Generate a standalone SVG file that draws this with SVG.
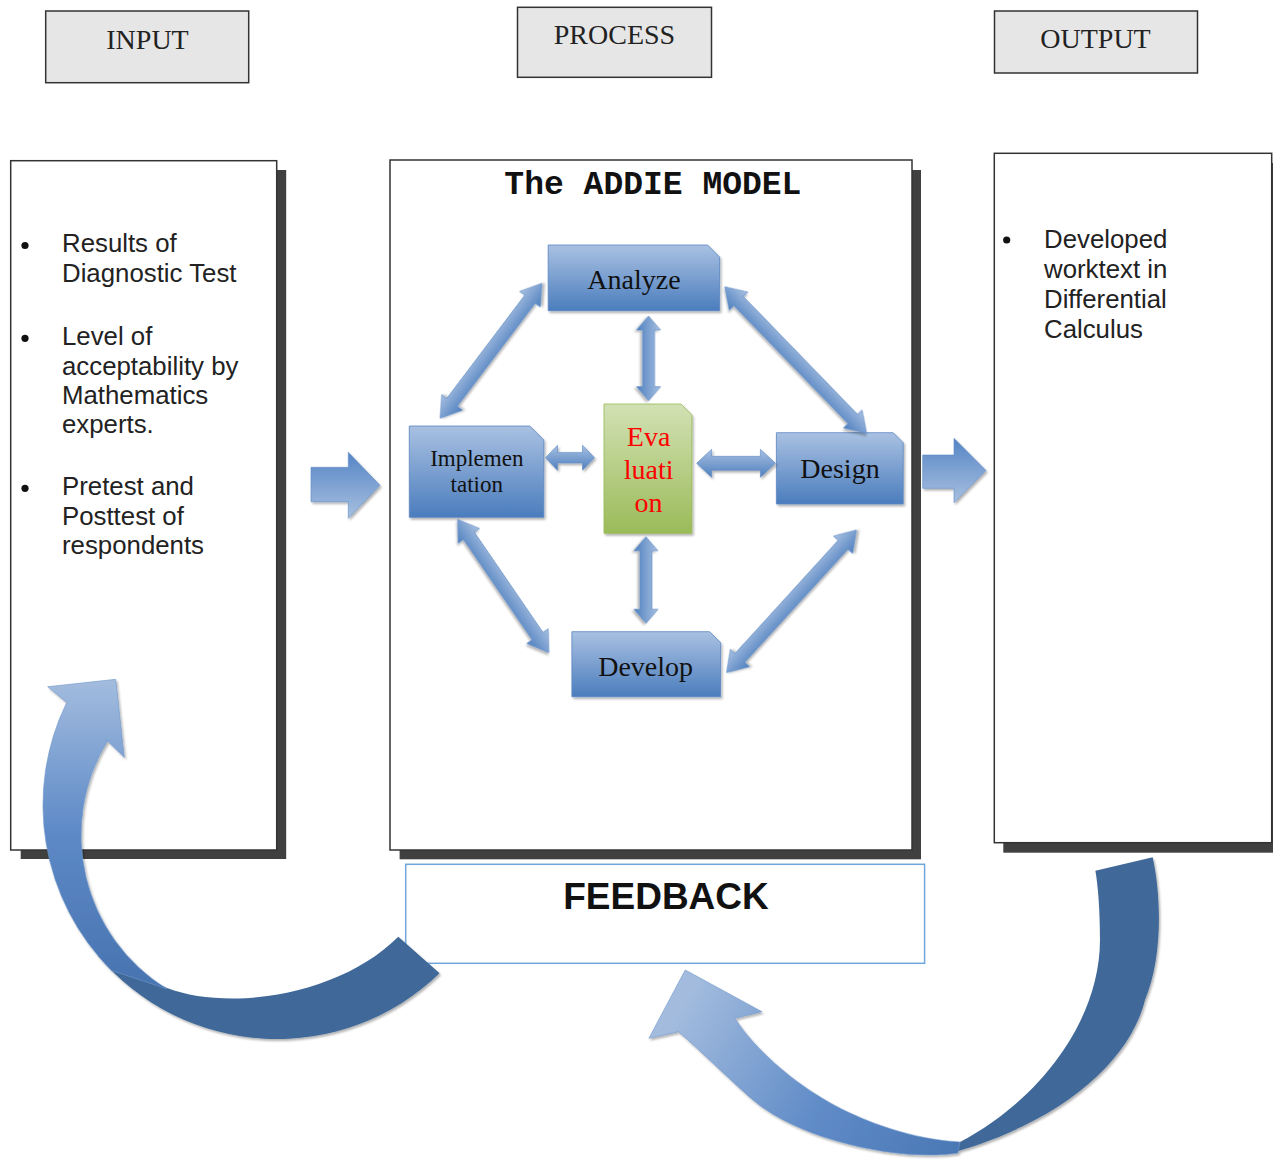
<svg xmlns="http://www.w3.org/2000/svg" width="1273" height="1161" viewBox="0 0 1273 1161">
  <style>
    .hdr { font-family: "Liberation Serif", "Times New Roman", serif; font-size: 28px; fill: #222; text-anchor: middle; }
    .hbox { fill: #e6e6e6; stroke: #333; stroke-width: 1.5; }
    .panel { fill: #fff; stroke: #333; stroke-width: 1.5; }
    .shadow { fill: #404040; }
    .body { font-family: "Liberation Sans", Arial, sans-serif; font-size: 25.8px; fill: #222; }
    .title { font-family: "Liberation Mono", "Courier New", monospace; font-weight: bold; font-size: 33px; fill: #111; text-anchor: middle; }
    .fb { font-family: "Liberation Sans", Arial, sans-serif; font-weight: bold; font-size: 37px; fill: #111; text-anchor: middle; }
    .nd { font-family: "Liberation Serif", "Times New Roman", serif; font-size: 28px; fill: #111; text-anchor: middle; }
    .step { fill: url(#stepBlue); stroke: #5a87c2; stroke-width: 0.8; filter: url(#soft); }
    .dbl { fill: url(#arrowBlue); stroke: #5b88c4; stroke-width: 0.6; filter: url(#soft); }
    .blk { fill: url(#blockBlue); stroke: #5f8cc8; stroke-width: 0.6; filter: url(#soft); }
  </style>
  <defs>
    <linearGradient id="stepBlue" x1="0" y1="0" x2="0" y2="1">
      <stop offset="0" stop-color="#a9c1e2"/>
      <stop offset="1" stop-color="#4b7dbd"/>
    </linearGradient>
    <linearGradient id="stepGreen" x1="0" y1="0" x2="0" y2="1">
      <stop offset="0" stop-color="#d2e1b4"/>
      <stop offset="1" stop-color="#9bbb59"/>
    </linearGradient>
    <linearGradient id="arrowBlue" x1="0" y1="0" x2="0" y2="1">
      <stop offset="0" stop-color="#a8c0e1"/>
      <stop offset="1" stop-color="#4f80bf"/>
    </linearGradient>
    <linearGradient id="blockBlue" x1="0" y1="0" x2="0" y2="1">
      <stop offset="0" stop-color="#5585c5"/>
      <stop offset="1" stop-color="#a8c0e0"/>
    </linearGradient>
    <linearGradient id="loopLeft" gradientUnits="userSpaceOnUse" x1="0" y1="680" x2="0" y2="985">
      <stop offset="0" stop-color="#a3bcde"/>
      <stop offset="0.5" stop-color="#5d8ac7"/>
      <stop offset="1" stop-color="#4874b0"/>
    </linearGradient>
    <linearGradient id="loopRight" gradientUnits="userSpaceOnUse" x1="690" y1="990" x2="960" y2="1150">
      <stop offset="0" stop-color="#a3bcde"/>
      <stop offset="0.55" stop-color="#5f8bc7"/>
      <stop offset="1" stop-color="#4a78b5"/>
    </linearGradient>
    <filter id="soft" x="-20%" y="-20%" width="140%" height="140%">
      <feDropShadow dx="1.5" dy="2" stdDeviation="1.2" flood-color="#000" flood-opacity="0.3"/>
    </filter>
  </defs>

  <!-- column headings -->
  <g id="head-input">
    <rect class="hbox" x="45.7" y="11" width="203" height="71.7"/>
    <text class="hdr" x="147.5" y="49">INPUT</text>
  </g>
  <g id="head-process">
    <rect class="hbox" x="517.5" y="7.3" width="194" height="70"/>
    <text class="hdr" x="614.5" y="44">PROCESS</text>
  </g>
  <g id="head-output">
    <rect class="hbox" x="994.5" y="11" width="203" height="62"/>
    <text class="hdr" x="1095.5" y="47.5">OUTPUT</text>
  </g>

  <!-- input panel -->
  <g id="input-panel">
    <rect class="shadow" x="20.7" y="170" width="265.5" height="689"/>
    <rect class="panel" x="10.7" y="160.7" width="266" height="689.3"/>
    <circle cx="25" cy="245.5" r="3.6" fill="#111"/>
    <text class="body" x="62" y="252.3">Results of</text>
    <text class="body" x="62" y="281.8">Diagnostic Test</text>
    <circle cx="25" cy="338.3" r="3.6" fill="#111"/>
    <text class="body" x="62" y="345">Level of</text>
    <text class="body" x="62" y="374.5">acceptability by</text>
    <text class="body" x="62" y="403.5">Mathematics</text>
    <text class="body" x="62" y="433">experts.</text>
    <circle cx="25" cy="488.3" r="3.6" fill="#111"/>
    <text class="body" x="62" y="495">Pretest and</text>
    <text class="body" x="62" y="524.5">Posttest of</text>
    <text class="body" x="62" y="554">respondents</text>
  </g>

  <!-- process panel -->
  <g id="process-panel">
    <rect class="shadow" x="399.6" y="170" width="521.4" height="689.3"/>
    <rect class="panel" x="390" y="160" width="522" height="690"/>
    <text class="title" x="652.9" y="194">The ADDIE MODEL</text>
  </g>

  <!-- output panel -->
  <g id="output-panel">
    <rect class="shadow" x="1003.3" y="163" width="280" height="689.7"/>
    <rect class="panel" x="994.3" y="153.3" width="277.4" height="689.4"/>
    <circle cx="1006.7" cy="240" r="3.6" fill="#111"/>
    <text class="body" x="1044" y="248">Developed</text>
    <text class="body" x="1044" y="278">worktext in</text>
    <text class="body" x="1044" y="308">Differential</text>
    <text class="body" x="1044" y="337.7">Calculus</text>
  </g>

  <!-- feedback box -->
  <g id="feedback">
    <rect x="405.7" y="864.3" width="518.9" height="99" fill="#fff" stroke="#6fa6dc" stroke-width="1.5"/>
    <text class="fb" x="666" y="909.3">FEEDBACK</text>
  </g>

  <!-- ADDIE steps -->
  <g id="step-analyze">
    <path class="step" d="M548.2,245 L707.6,245 L719.6,257 L719.6,310.7 L548.2,310.7 Z"/>
    <text class="nd" x="634" y="289.3">Analyze</text>
  </g>
  <g id="step-implementation">
    <path class="step" d="M409.3,426 L529.8,426 L543.8,440 L543.8,517.3 L409.3,517.3 Z"/>
    <text class="nd" x="476.8" y="466" style="font-size:23px">Implemen</text>
    <text class="nd" x="476.8" y="492.3" style="font-size:23px">tation</text>
  </g>
  <g id="step-evaluation">
    <path d="M604,404 L680.9,404 L691.9,415 L691.9,533.3 L604,533.3 Z" fill="url(#stepGreen)" stroke="#98b954" stroke-width="0.8" filter="url(#soft)"/>
    <text class="nd" x="648.6" y="446" fill="#ff0000" style="fill:#ff0000">Eva</text>
    <text class="nd" x="648.6" y="479.3" style="fill:#ff0000">luati</text>
    <text class="nd" x="648.6" y="511.7" style="fill:#ff0000">on</text>
  </g>
  <g id="step-design">
    <path class="step" d="M776.4,432.7 L893.2,432.7 L903.2,442.7 L903.2,504 L776.4,504 Z"/>
    <text class="nd" x="840" y="478.3">Design</text>
  </g>
  <g id="step-develop">
    <path class="step" d="M571.9,631.7 L709.6,631.7 L720.6,642.7 L720.6,696.7 L571.9,696.7 Z"/>
    <text class="nd" x="645.6" y="675.7">Develop</text>
  </g>

  <!-- connectors -->
  <g id="connectors">
    <!-- flow arrows between panels -->
    <path class="blk" d="M311,467.3 L348.3,467.3 L348.3,452.3 L380,485.3 L348.3,518.3 L348.3,501.7 L311,501.7 Z"/>
    <path class="blk" d="M922.7,455 L954,455 L954,438.3 L986,470.5 L954,502.7 L954,488.3 L922.7,488.3 Z"/>

    <!-- two-way links between ADDIE steps -->
    <path class="dbl" transform="translate(440 418.3) rotate(-52.93)" d="M0,0 L20,-13 L20,-6.5 L149.2,-6.5 L149.2,-13 L169.2,0 L149.2,13 L149.2,6.5 L20,6.5 L20,13 Z"/>
    <path class="dbl" transform="translate(724.7 286.7) rotate(45.91)" d="M0,0 L20,-13 L20,-6.5 L184.1,-6.5 L184.1,-13 L204.1,0 L184.1,13 L184.1,6.5 L20,6.5 L20,13 Z"/>
    <path class="dbl" transform="translate(648.6 316) rotate(90)" d="M0,0 L14,-12 L14,-6 L70.7,-6 L70.7,-12 L84.7,0 L70.7,12 L70.7,6 L14,6 L14,12 Z"/>
    <path class="dbl" transform="translate(545.5 457.7)" d="M0,0 L12,-12.5 L12,-5.3 L37,-5.3 L37,-12.5 L49,0 L37,12.5 L37,5.3 L12,5.3 L12,12.5 Z"/>
    <path class="dbl" transform="translate(696.6 463.3)" d="M0,0 L15,-14 L15,-7 L63.8,-7 L63.8,-14 L78.8,0 L63.8,14 L63.8,7 L15,7 L15,14 Z"/>
    <path class="dbl" transform="translate(646 536.7) rotate(90)" d="M0,0 L14,-12 L14,-6 L72.6,-6 L72.6,-12 L86.6,0 L72.6,12 L72.6,6 L14,6 L14,12 Z"/>
    <path class="dbl" transform="translate(457.6 519.3) rotate(55.6)" d="M0,0 L20,-13 L20,-6.5 L141.6,-6.5 L141.6,-13 L161.6,0 L141.6,13 L141.6,6.5 L20,6.5 L20,13 Z"/>
    <path class="dbl" transform="translate(726.4 672.7) rotate(-47.64)" d="M0,0 L20,-13 L20,-6.5 L173.1,-6.5 L173.1,-13 L193.1,0 L173.1,13 L173.1,6.5 L20,6.5 L20,13 Z"/>

    <!-- feedback loop: feedback back to input -->
    <g filter="url(#soft)">
      <path fill="#3f6898" d="M398.3,936.7 L439.6,973.3 A234,234 0 0 1 97.7,955.4 L167,988 C230,1012 340,995 398.3,936.7 Z"/>
      <path fill="url(#loopLeft)" stroke="#6f97cc" stroke-width="0.6" d="M105.7,739.3 L124.3,757.3 L115.7,679.3 L47.7,686.7 L66.7,702.4 A234,234 0 0 0 111.5,970.5 L166.6,988.8 A181,181 0 0 1 107.4,741 Z"/>
    </g>

    <!-- feedback loop: output to feedback -->
    <g filter="url(#soft)">
      <path fill="#3f6898" d="M1095.4,870.7 L1152.7,857.3 C1162,900 1162,960 1145,1000 C1130,1060 1065,1120 955,1152 L960,1142 C1040,1100 1100,1020 1100,940 C1100,910 1098,885 1095.4,870.7 Z"/>
      <path fill="url(#loopRight)" stroke="#6f97cc" stroke-width="0.6" d="M958,1153 C900,1162 800,1140 753,1100 C730,1080 700,1050 678.4,1031.7 L648.9,1038.3 L685.2,970 L761.9,1011.7 L734.9,1018.3 C755,1050 800,1090 850,1113 C880,1127 920,1140 960,1142 Z"/>
    </g>
  </g>
</svg>
